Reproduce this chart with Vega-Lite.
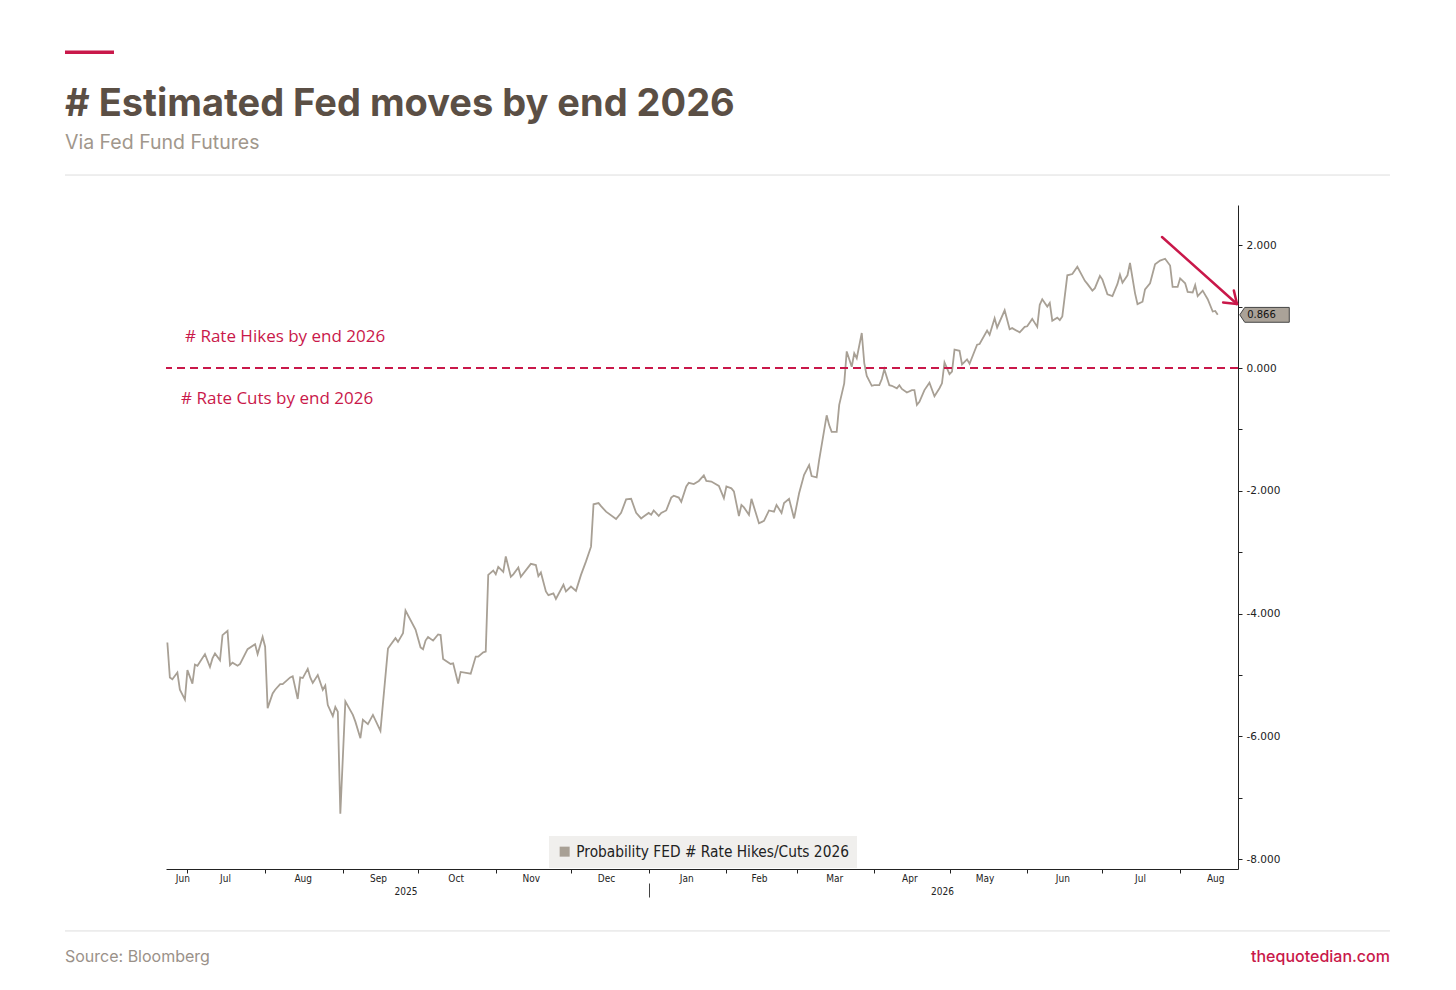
{
  "$schema": "https://vega.github.io/schema/vega-lite/v6.json",
  "width": 1072,
  "height": 664,
  "autosize": {"type": "none"},
  "padding": {"left": 166, "top": 205, "right": 218, "bottom": 121},
  "background": "white",
  "config": {
    "view": {"stroke": null},
    "axis": {"grid": false, "labelFont": "DejaVu Sans", "labelColor": "#222222"}
  },
  "title": {
    "text": "# Estimated Fed moves by end 2026",
    "subtitle": "Via Fed Fund Futures",
    "anchor": "start",
    "frame": "group",
    "dx": -101,
    "dy": 153,
    "offset": 51,
    "font": "Inter",
    "fontSize": 38,
    "fontWeight": 700,
    "color": "#5b4f45",
    "subtitleFont": "Inter",
    "subtitleFontSize": 19.5,
    "subtitleFontWeight": 400,
    "subtitleColor": "#a1978c",
    "subtitlePadding": 10
  },
  "resolve": {"axis": {"x": "independent", "y": "independent"}},
  "layer": [
    {
      "data": {"values": [
        {"date": "2025-06-23", "value": -4.47}, {"date": "2025-06-24", "value": -5.04}, {"date": "2025-06-25", "value": -5.07},
        {"date": "2025-06-27", "value": -4.96}, {"date": "2025-06-28", "value": -5.24}, {"date": "2025-06-30", "value": -5.40},
        {"date": "2025-07-01", "value": -4.92}, {"date": "2025-07-03", "value": -5.14}, {"date": "2025-07-04", "value": -4.83},
        {"date": "2025-07-05", "value": -4.85}, {"date": "2025-07-08", "value": -4.66}, {"date": "2025-07-10", "value": -4.87},
        {"date": "2025-07-11", "value": -4.73}, {"date": "2025-07-12", "value": -4.65}, {"date": "2025-07-14", "value": -4.76},
        {"date": "2025-07-15", "value": -4.35}, {"date": "2025-07-17", "value": -4.28}, {"date": "2025-07-18", "value": -4.84},
        {"date": "2025-07-19", "value": -4.80}, {"date": "2025-07-21", "value": -4.85}, {"date": "2025-07-22", "value": -4.82},
        {"date": "2025-07-25", "value": -4.58}, {"date": "2025-07-28", "value": -4.50}, {"date": "2025-07-29", "value": -4.66},
        {"date": "2025-07-31", "value": -4.38}, {"date": "2025-08-01", "value": -4.54}, {"date": "2025-08-02", "value": -5.54},
        {"date": "2025-08-04", "value": -5.30}, {"date": "2025-08-05", "value": -5.24}, {"date": "2025-08-07", "value": -5.15},
        {"date": "2025-08-08", "value": -5.15}, {"date": "2025-08-11", "value": -5.04}, {"date": "2025-08-12", "value": -5.02},
        {"date": "2025-08-14", "value": -5.39}, {"date": "2025-08-15", "value": -5.04}, {"date": "2025-08-16", "value": -5.05},
        {"date": "2025-08-18", "value": -4.90}, {"date": "2025-08-19", "value": -5.04}, {"date": "2025-08-20", "value": -5.13},
        {"date": "2025-08-22", "value": -5.00}, {"date": "2025-08-24", "value": -5.24}, {"date": "2025-08-25", "value": -5.17},
        {"date": "2025-08-26", "value": -5.49}, {"date": "2025-08-28", "value": -5.67}, {"date": "2025-08-29", "value": -5.52},
        {"date": "2025-08-30", "value": -5.60}, {"date": "2025-08-31", "value": -7.26}, {"date": "2025-09-02", "value": -5.43},
        {"date": "2025-09-05", "value": -5.65}, {"date": "2025-09-06", "value": -5.76}, {"date": "2025-09-08", "value": -6.03},
        {"date": "2025-09-09", "value": -5.73}, {"date": "2025-09-11", "value": -5.80}, {"date": "2025-09-13", "value": -5.65},
        {"date": "2025-09-16", "value": -5.91}, {"date": "2025-09-19", "value": -4.57}, {"date": "2025-09-20", "value": -4.51},
        {"date": "2025-09-22", "value": -4.40}, {"date": "2025-09-23", "value": -4.46}, {"date": "2025-09-25", "value": -4.32},
        {"date": "2025-09-26", "value": -3.95}, {"date": "2025-09-30", "value": -4.26}, {"date": "2025-10-02", "value": -4.55},
        {"date": "2025-10-03", "value": -4.58}, {"date": "2025-10-04", "value": -4.44}, {"date": "2025-10-05", "value": -4.38},
        {"date": "2025-10-07", "value": -4.44}, {"date": "2025-10-09", "value": -4.34}, {"date": "2025-10-10", "value": -4.35},
        {"date": "2025-10-11", "value": -4.74}, {"date": "2025-10-14", "value": -4.82}, {"date": "2025-10-15", "value": -4.81},
        {"date": "2025-10-17", "value": -5.14}, {"date": "2025-10-18", "value": -4.95}, {"date": "2025-10-22", "value": -4.98},
        {"date": "2025-10-24", "value": -4.70}, {"date": "2025-10-25", "value": -4.70}, {"date": "2025-10-27", "value": -4.63},
        {"date": "2025-10-28", "value": -4.62}, {"date": "2025-10-29", "value": -3.37}, {"date": "2025-10-31", "value": -3.30},
        {"date": "2025-11-01", "value": -3.36}, {"date": "2025-11-02", "value": -3.24}, {"date": "2025-11-04", "value": -3.32},
        {"date": "2025-11-05", "value": -3.07}, {"date": "2025-11-07", "value": -3.40}, {"date": "2025-11-08", "value": -3.36},
        {"date": "2025-11-10", "value": -3.25}, {"date": "2025-11-11", "value": -3.40}, {"date": "2025-11-15", "value": -3.19},
        {"date": "2025-11-17", "value": -3.21}, {"date": "2025-11-18", "value": -3.39}, {"date": "2025-11-19", "value": -3.33},
        {"date": "2025-11-21", "value": -3.64}, {"date": "2025-11-22", "value": -3.70}, {"date": "2025-11-24", "value": -3.67},
        {"date": "2025-11-25", "value": -3.76}, {"date": "2025-11-28", "value": -3.53}, {"date": "2025-11-29", "value": -3.64},
        {"date": "2025-12-01", "value": -3.56}, {"date": "2025-12-03", "value": -3.63}, {"date": "2025-12-05", "value": -3.37},
        {"date": "2025-12-07", "value": -3.15}, {"date": "2025-12-09", "value": -2.91}, {"date": "2025-12-10", "value": -2.22},
        {"date": "2025-12-12", "value": -2.20}, {"date": "2025-12-13", "value": -2.25}, {"date": "2025-12-15", "value": -2.34},
        {"date": "2025-12-19", "value": -2.46}, {"date": "2025-12-21", "value": -2.36}, {"date": "2025-12-23", "value": -2.14},
        {"date": "2025-12-25", "value": -2.13}, {"date": "2025-12-27", "value": -2.36}, {"date": "2025-12-29", "value": -2.45},
        {"date": "2025-12-30", "value": -2.42}, {"date": "2026-01-01", "value": -2.36}, {"date": "2026-01-02", "value": -2.39},
        {"date": "2026-01-03", "value": -2.32}, {"date": "2026-01-05", "value": -2.41}, {"date": "2026-01-06", "value": -2.36},
        {"date": "2026-01-08", "value": -2.32}, {"date": "2026-01-10", "value": -2.11}, {"date": "2026-01-11", "value": -2.08},
        {"date": "2026-01-13", "value": -2.11}, {"date": "2026-01-14", "value": -2.18}, {"date": "2026-01-16", "value": -1.93},
        {"date": "2026-01-17", "value": -1.87}, {"date": "2026-01-19", "value": -1.89}, {"date": "2026-01-21", "value": -1.84},
        {"date": "2026-01-23", "value": -1.75}, {"date": "2026-01-24", "value": -1.84}, {"date": "2026-01-26", "value": -1.85},
        {"date": "2026-01-29", "value": -1.92}, {"date": "2026-01-31", "value": -2.12}, {"date": "2026-02-01", "value": -1.93},
        {"date": "2026-02-03", "value": -1.96}, {"date": "2026-02-04", "value": -2.01}, {"date": "2026-02-06", "value": -2.41},
        {"date": "2026-02-07", "value": -2.23}, {"date": "2026-02-08", "value": -2.27}, {"date": "2026-02-10", "value": -2.39},
        {"date": "2026-02-11", "value": -2.13}, {"date": "2026-02-14", "value": -2.53}, {"date": "2026-02-16", "value": -2.49},
        {"date": "2026-02-18", "value": -2.32}, {"date": "2026-02-20", "value": -2.34}, {"date": "2026-02-21", "value": -2.23},
        {"date": "2026-02-23", "value": -2.36}, {"date": "2026-02-24", "value": -2.20}, {"date": "2026-02-26", "value": -2.13},
        {"date": "2026-02-28", "value": -2.45}, {"date": "2026-03-02", "value": -2.04}, {"date": "2026-03-04", "value": -1.74},
        {"date": "2026-03-06", "value": -1.58}, {"date": "2026-03-07", "value": -1.76}, {"date": "2026-03-09", "value": -1.78},
        {"date": "2026-03-10", "value": -1.50}, {"date": "2026-03-13", "value": -0.77}, {"date": "2026-03-14", "value": -0.93},
        {"date": "2026-03-15", "value": -1.04}, {"date": "2026-03-17", "value": -1.04}, {"date": "2026-03-18", "value": -0.60},
        {"date": "2026-03-20", "value": -0.25}, {"date": "2026-03-21", "value": 0.27}, {"date": "2026-03-23", "value": 0.02},
        {"date": "2026-03-24", "value": 0.24}, {"date": "2026-03-25", "value": 0.16}, {"date": "2026-03-27", "value": 0.57},
        {"date": "2026-03-28", "value": 0.08}, {"date": "2026-03-29", "value": -0.13}, {"date": "2026-03-31", "value": -0.29},
        {"date": "2026-04-01", "value": -0.28}, {"date": "2026-04-03", "value": -0.28}, {"date": "2026-04-04", "value": -0.18},
        {"date": "2026-04-05", "value": -0.02}, {"date": "2026-04-07", "value": -0.28}, {"date": "2026-04-08", "value": -0.29},
        {"date": "2026-04-10", "value": -0.33}, {"date": "2026-04-11", "value": -0.28}, {"date": "2026-04-12", "value": -0.34},
        {"date": "2026-04-14", "value": -0.40}, {"date": "2026-04-16", "value": -0.36}, {"date": "2026-04-17", "value": -0.36},
        {"date": "2026-04-18", "value": -0.60}, {"date": "2026-04-19", "value": -0.55}, {"date": "2026-04-21", "value": -0.36},
        {"date": "2026-04-23", "value": -0.24}, {"date": "2026-04-25", "value": -0.46}, {"date": "2026-04-27", "value": -0.33},
        {"date": "2026-04-28", "value": -0.25}, {"date": "2026-04-29", "value": 0.09}, {"date": "2026-05-01", "value": -0.10},
        {"date": "2026-05-02", "value": -0.06}, {"date": "2026-05-03", "value": 0.30}, {"date": "2026-05-05", "value": 0.28},
        {"date": "2026-05-06", "value": 0.06}, {"date": "2026-05-08", "value": 0.14}, {"date": "2026-05-09", "value": 0.07},
        {"date": "2026-05-12", "value": 0.38}, {"date": "2026-05-13", "value": 0.39}, {"date": "2026-05-16", "value": 0.61},
        {"date": "2026-05-17", "value": 0.54}, {"date": "2026-05-19", "value": 0.81}, {"date": "2026-05-20", "value": 0.66},
        {"date": "2026-05-23", "value": 0.94}, {"date": "2026-05-25", "value": 0.63}, {"date": "2026-05-26", "value": 0.65},
        {"date": "2026-05-29", "value": 0.58}, {"date": "2026-05-31", "value": 0.67}, {"date": "2026-06-01", "value": 0.68},
        {"date": "2026-06-03", "value": 0.80}, {"date": "2026-06-05", "value": 0.67}, {"date": "2026-06-06", "value": 1.03},
        {"date": "2026-06-07", "value": 1.12}, {"date": "2026-06-09", "value": 1.00}, {"date": "2026-06-10", "value": 1.06},
        {"date": "2026-06-11", "value": 0.77}, {"date": "2026-06-13", "value": 0.82}, {"date": "2026-06-14", "value": 0.78},
        {"date": "2026-06-15", "value": 0.84}, {"date": "2026-06-17", "value": 1.51}, {"date": "2026-06-19", "value": 1.53},
        {"date": "2026-06-21", "value": 1.65}, {"date": "2026-06-24", "value": 1.42}, {"date": "2026-06-25", "value": 1.37},
        {"date": "2026-06-27", "value": 1.26}, {"date": "2026-06-28", "value": 1.30}, {"date": "2026-06-30", "value": 1.50},
        {"date": "2026-07-01", "value": 1.44}, {"date": "2026-07-03", "value": 1.20}, {"date": "2026-07-05", "value": 1.17},
        {"date": "2026-07-07", "value": 1.37}, {"date": "2026-07-08", "value": 1.52}, {"date": "2026-07-09", "value": 1.39},
        {"date": "2026-07-11", "value": 1.51}, {"date": "2026-07-12", "value": 1.71}, {"date": "2026-07-14", "value": 1.22},
        {"date": "2026-07-15", "value": 1.04}, {"date": "2026-07-17", "value": 1.08}, {"date": "2026-07-18", "value": 1.28},
        {"date": "2026-07-20", "value": 1.38}, {"date": "2026-07-22", "value": 1.69}, {"date": "2026-07-24", "value": 1.75},
        {"date": "2026-07-26", "value": 1.78}, {"date": "2026-07-28", "value": 1.67}, {"date": "2026-07-29", "value": 1.32},
        {"date": "2026-07-31", "value": 1.32}, {"date": "2026-08-01", "value": 1.46}, {"date": "2026-08-03", "value": 1.38},
        {"date": "2026-08-04", "value": 1.24}, {"date": "2026-08-06", "value": 1.23}, {"date": "2026-08-07", "value": 1.35},
        {"date": "2026-08-08", "value": 1.17}, {"date": "2026-08-10", "value": 1.26}, {"date": "2026-08-12", "value": 1.12},
        {"date": "2026-08-14", "value": 0.92}, {"date": "2026-08-15", "value": 0.93}, {"date": "2026-08-16", "value": 0.866}
      ]},
      "mark": {"type": "line", "strokeWidth": 1.8},
      "encoding": {
        "x": {
          "field": "date", "type": "temporal",
          "scale": {"type": "utc", "domain": [
            {"year": 2025, "month": 6, "date": 22, "hours": 11, "utc": true},
            {"year": 2026, "month": 8, "date": 24, "hours": 2, "utc": true}
          ]},
          "axis": {
            "orient": "bottom", "title": null, "labels": false, "tickSize": 4,
            "tickColor": "#222222", "domainColor": "#222222",
            "values": [
              {"year": 2025, "month": 7, "date": 1, "utc": true}, {"year": 2025, "month": 8, "date": 1, "utc": true},
              {"year": 2025, "month": 9, "date": 1, "utc": true}, {"year": 2025, "month": 10, "date": 1, "utc": true},
              {"year": 2025, "month": 11, "date": 1, "utc": true}, {"year": 2025, "month": 12, "date": 1, "utc": true},
              {"year": 2026, "month": 1, "date": 1, "utc": true}, {"year": 2026, "month": 2, "date": 1, "utc": true},
              {"year": 2026, "month": 3, "date": 1, "utc": true}, {"year": 2026, "month": 4, "date": 1, "utc": true},
              {"year": 2026, "month": 5, "date": 1, "utc": true}, {"year": 2026, "month": 6, "date": 1, "utc": true},
              {"year": 2026, "month": 7, "date": 1, "utc": true}, {"year": 2026, "month": 8, "date": 1, "utc": true}
            ]
          }
        },
        "y": {
          "field": "value", "type": "quantitative",
          "scale": {"domain": [-8.16, 2.655], "nice": false, "zero": false},
          "axis": {
            "orient": "right", "title": null,
            "values": [-8, -7, -6, -5, -4, -3, -2, -1, 0, 1, 2],
            "labelExpr": "datum.value % 2 == 0 ? replace(format(datum.value, '.3f'), '\u2212', '-') : ''",
            "tickSize": 4, "tickColor": "#222222", "domainColor": "#222222",
            "labelFontSize": 10.5, "labelPadding": 4
          }
        },
        "color": {
          "datum": "Probability FED # Rate Hikes/Cuts 2026",
          "scale": {"range": ["#a8a095"]},
          "legend": {
            "title": null, "orient": "none", "legendX": 383, "legendY": 631,
            "fillColor": "#f0efed", "padding": 8,
            "symbolType": "square", "symbolSize": 100,
            "labelFont": "DejaVu Sans Condensed, Liberation Sans, sans-serif", "labelFontSize": 15.3, "labelColor": "#222222",
            "labelOffset": 4, "labelLimit": 400,
            "encode": {"symbols": {"update": {
              "fill": {"value": "#a8a095"}, "stroke": {"value": "#a8a095"}, "strokeWidth": {"value": 0}
            }}}
          }
        }
      }
    },
    {
      "data": {"values": [{}]},
      "mark": {"type": "rule", "color": "#c9184a", "strokeWidth": 2, "strokeDash": [8, 5]},
      "encoding": {"y": {"datum": 0, "type": "quantitative", "axis": null}}
    },
    {
      "data": {"values": [{}]},
      "mark": {"type": "text", "text": "# Rate Hikes by end 2026", "font": "Open Sans", "fontSize": 17, "color": "#c9184a", "align": "left", "baseline": "middle"},
      "encoding": {
        "x": {
          "datum": {"year": 2025, "month": 6, "date": 30, "hours": 1, "utc": true}, "type": "temporal",
          "axis": {
            "orient": "bottom", "title": null, "domain": false, "ticks": false, "tickSize": 0,
            "labelPadding": 4, "labelFont": "DejaVu Sans Condensed, DejaVu Sans, sans-serif", "labelFontSize": 10,
            "labelExpr": "utcFormat(datum.value, '%b')",
            "values": [
              {"year": 2025, "month": 6, "date": 29, "utc": true}, {"year": 2025, "month": 7, "date": 16, "utc": true},
              {"year": 2025, "month": 8, "date": 16, "utc": true}, {"year": 2025, "month": 9, "date": 15, "utc": true},
              {"year": 2025, "month": 10, "date": 16, "utc": true}, {"year": 2025, "month": 11, "date": 15, "utc": true},
              {"year": 2025, "month": 12, "date": 15, "utc": true}, {"year": 2026, "month": 1, "date": 16, "utc": true},
              {"year": 2026, "month": 2, "date": 14, "utc": true}, {"year": 2026, "month": 3, "date": 16, "utc": true},
              {"year": 2026, "month": 4, "date": 15, "utc": true}, {"year": 2026, "month": 5, "date": 15, "utc": true},
              {"year": 2026, "month": 6, "date": 15, "utc": true}, {"year": 2026, "month": 7, "date": 16, "utc": true},
              {"year": 2026, "month": 8, "date": 15, "utc": true}
            ]
          }
        },
        "y": {"datum": 0.505, "type": "quantitative", "axis": null}
      }
    },
    {
      "data": {"values": [{}]},
      "mark": {"type": "text", "text": "# Rate Cuts by end 2026", "font": "Open Sans", "fontSize": 17, "color": "#c9184a", "align": "left", "baseline": "middle"},
      "encoding": {
        "x": {
          "datum": {"year": 2025, "month": 6, "date": 28, "hours": 11, "utc": true}, "type": "temporal",
          "axis": {
            "orient": "bottom", "title": null, "domain": false, "ticks": false, "tickSize": 0,
            "labelPadding": 17, "labelFont": "DejaVu Sans Condensed, DejaVu Sans, sans-serif", "labelFontSize": 10,
            "labelExpr": "utcFormat(datum.value, '%Y')",
            "values": [
              {"year": 2025, "month": 9, "date": 26, "utc": true},
              {"year": 2026, "month": 4, "date": 28, "utc": true}
            ]
          }
        },
        "y": {"datum": -0.505, "type": "quantitative", "axis": null}
      }
    },
    {
      "data": {"values": [{}]},
      "mark": {"type": "point", "shape": "M-1,0L-0.8,-0.3L1,-0.3L1,0.3L-0.8,0.3Z", "size": 2450, "filled": true, "fill": "#aaa298", "stroke": "#444444", "strokeWidth": 1, "opacity": 1},
      "encoding": {
        "x": {
          "datum": {"year": 2026, "month": 9, "date": 3, "hours": 16, "utc": true}, "type": "temporal",
          "axis": {
            "orient": "bottom", "title": null, "domain": false, "labels": false,
            "offset": 14, "tickSize": 14, "tickColor": "#444444",
            "values": [{"year": 2026, "month": 1, "date": 1, "utc": true}]
          }
        },
        "y": {"datum": 0.866, "type": "quantitative", "axis": null}
      }
    },
    {
      "data": {"values": [{}]},
      "mark": {"type": "text", "text": "0.866", "font": "DejaVu Sans", "fontSize": 10, "color": "#111111", "align": "center", "baseline": "middle", "dx": -3},
      "encoding": {
        "x": {"datum": {"year": 2026, "month": 9, "date": 3, "hours": 16, "utc": true}, "type": "temporal", "axis": null},
        "y": {"datum": 0.866, "type": "quantitative", "axis": null}
      }
    },
    {
      "data": {"values": [{}]},
      "mark": {"type": "rule", "color": "#c9184a", "strokeWidth": 2.5, "strokeCap": "round"},
      "encoding": {
        "x": {"datum": {"year": 2026, "month": 7, "date": 24, "hours": 18, "minutes": 30, "utc": true}, "type": "temporal", "axis": null},
        "x2": {"datum": {"year": 2026, "month": 8, "date": 23, "hours": 16, "minutes": 30, "utc": true}},
        "y": {"datum": 2.134, "type": "quantitative", "axis": null},
        "y2": {"datum": 1.042}
      }
    },
    {
      "data": {"values": [{}]},
      "mark": {"type": "rule", "color": "#c9184a", "strokeWidth": 2.5, "strokeCap": "round"},
      "encoding": {
        "x": {"datum": {"year": 2026, "month": 8, "date": 22, "hours": 10, "utc": true}, "type": "temporal", "axis": null},
        "x2": {"datum": {"year": 2026, "month": 8, "date": 23, "hours": 16, "minutes": 30, "utc": true}},
        "y": {"datum": 1.264, "type": "quantitative", "axis": null},
        "y2": {"datum": 1.042}
      }
    },
    {
      "data": {"values": [{}]},
      "mark": {"type": "rule", "color": "#c9184a", "strokeWidth": 2.5, "strokeCap": "round"},
      "encoding": {
        "x": {"datum": {"year": 2026, "month": 8, "date": 18, "hours": 3, "minutes": 30, "utc": true}, "type": "temporal", "axis": null},
        "x2": {"datum": {"year": 2026, "month": 8, "date": 23, "hours": 16, "minutes": 30, "utc": true}},
        "y": {"datum": 1.068, "type": "quantitative", "axis": null},
        "y2": {"datum": 1.042}
      }
    },
    {
      "data": {"values": [{}]},
      "mark": {"type": "rule", "color": "#c9184a", "strokeWidth": 3.5},
      "encoding": {
        "x": {"datum": {"year": 2025, "month": 5, "date": 13, "hours": 4, "utc": true}, "type": "temporal", "axis": null},
        "x2": {"datum": {"year": 2025, "month": 6, "date": 1, "hours": 17, "utc": true}},
        "y": {"datum": 5.142, "type": "quantitative", "axis": null}
      }
    },
    {
      "data": {"values": [{}]},
      "mark": {"type": "rule", "color": "#dddddd", "strokeWidth": 1},
      "encoding": {
        "x": {"datum": {"year": 2025, "month": 5, "date": 13, "hours": 4, "utc": true}, "type": "temporal", "axis": null},
        "x2": {"datum": {"year": 2026, "month": 10, "date": 23, "hours": 17, "utc": true}},
        "y": {"datum": 3.143, "type": "quantitative", "axis": null}
      }
    },
    {
      "data": {"values": [{}]},
      "mark": {"type": "rule", "color": "#dddddd", "strokeWidth": 1},
      "encoding": {
        "x": {"datum": {"year": 2025, "month": 5, "date": 13, "hours": 4, "utc": true}, "type": "temporal", "axis": null},
        "x2": {"datum": {"year": 2026, "month": 10, "date": 23, "hours": 17, "utc": true}},
        "y": {"datum": -9.169, "type": "quantitative", "axis": null}
      }
    },
    {
      "data": {"values": [{}]},
      "mark": {"type": "text", "text": "Source: Bloomberg", "font": "Inter", "fontSize": 16, "color": "#9a9189", "align": "left", "baseline": "middle"},
      "encoding": {
        "x": {"datum": {"year": 2025, "month": 5, "date": 13, "hours": 4, "utc": true}, "type": "temporal", "axis": null},
        "y": {"datum": -9.593, "type": "quantitative", "axis": null}
      }
    },
    {
      "data": {"values": [{}]},
      "mark": {"type": "text", "text": "thequotedian.com", "font": "Inter", "fontSize": 16, "fontWeight": 500, "color": "#c9184a", "align": "right", "baseline": "middle"},
      "encoding": {
        "x": {"datum": {"year": 2026, "month": 10, "date": 23, "hours": 17, "utc": true}, "type": "temporal", "axis": null},
        "y": {"datum": -9.593, "type": "quantitative", "axis": null}
      }
    }
  ]
}
